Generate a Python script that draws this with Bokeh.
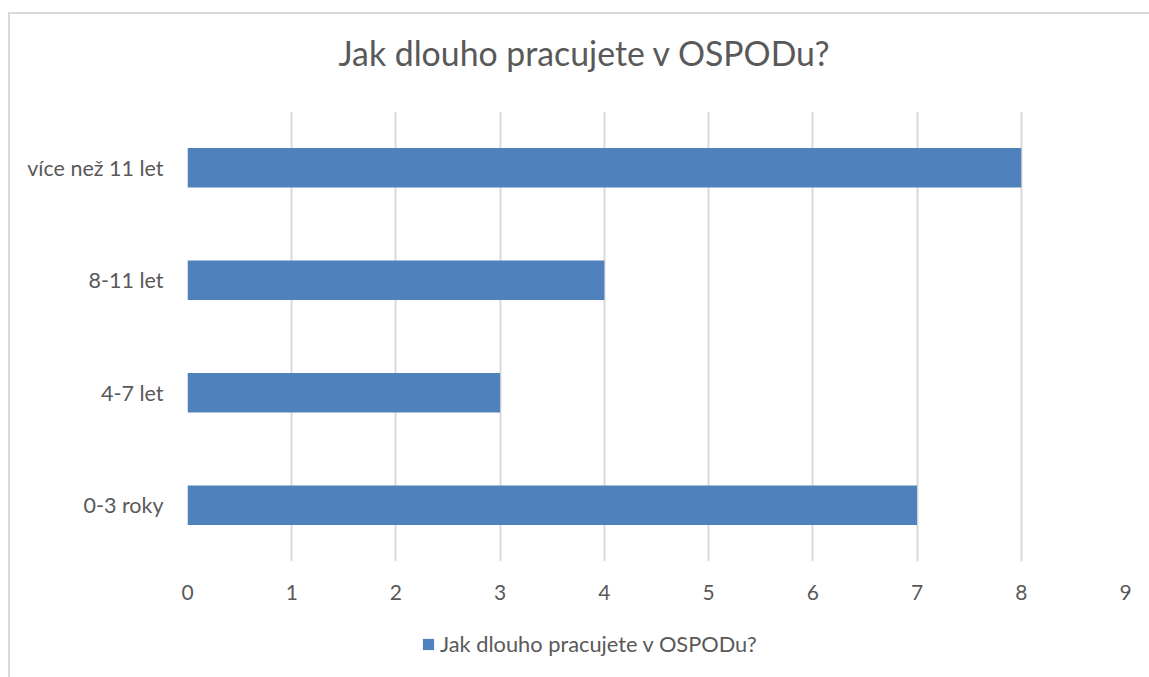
from bokeh.plotting import figure
from bokeh.layouts import column
from bokeh.models import Range1d, FactorRange, Legend, LegendItem, ColumnDataSource, FixedTicker
from bokeh.embed import file_html
from bokeh.resources import INLINE

categories = ["0-3 roky", "4-7 let", "8-11 let", "více než 11 let"]
values = [7, 3, 4, 8]
x_ticks = [0, 1, 2, 3, 4, 5, 6, 7, 8, 9]
title_text = "Jak dlouho pracujete v OSPODu?"
series_name = "Jak dlouho pracujete v OSPODu?"

FONT = "Lato"
TXT = "#595959"
BAR = "#4F81BD"
GRID = "#D9D9D9"

src = ColumnDataSource(dict(cat=categories, val=values))
xr = Range1d(0, 9)
yr = FactorRange(factors=categories)

def blank(fig):
    fig.grid.visible = False
    fig.outline_line_color = None
    fig.background_fill_color = "white"
    fig.border_fill_color = "white"

# title strip
p0 = figure(width=1139, height=97, output_backend="svg", toolbar_location=None,
            x_range=xr, y_range=yr, x_axis_location=None, y_axis_location=None,
            min_border=0, title=title_text)
blank(p0)
p0.title.text_font = FONT
p0.title.text_font_size = "33.8px"
p0.title.text_font_style = "normal"
p0.title.text_color = TXT
p0.title.align = "left"
p0.title.offset = 151
p0.title.vertical_align = "top"
p0.title.standoff = 37

# main chart
p = figure(
    y_range=yr, x_range=xr,
    width=1139, height=509, output_backend="svg", toolbar_location=None,
    min_border_left=177, min_border_right=24, min_border_top=0, min_border_bottom=59,
)
p.outline_line_color = None
p.background_fill_color = "white"
p.border_fill_color = "white"

r = p.hbar(y="cat", right="val", left=0, height=0.35, source=src, color=BAR, line_color=None)

p.xaxis.ticker = FixedTicker(ticks=x_ticks)
p.xaxis.axis_line_color = None
p.xaxis.major_tick_line_color = None
p.xaxis.minor_tick_line_color = None
p.xaxis.major_label_text_font = FONT
p.xaxis.major_label_text_font_size = "21px"
p.xaxis.major_label_text_color = TXT
p.xaxis.major_label_standoff = 17

p.yaxis.axis_line_color = None
p.yaxis.major_tick_line_color = None
p.yaxis.major_label_text_font = FONT
p.yaxis.major_label_text_font_size = "21.5px"
p.yaxis.major_label_text_color = TXT
p.yaxis.major_label_standoff = 18

p.xgrid.grid_line_color = GRID
p.xgrid.grid_line_width = 2
p.ygrid.grid_line_color = None

# legend strip below the chart (zero-height bars as legend source)
p2 = figure(width=1139, height=57, output_backend="svg", toolbar_location=None,
            x_range=xr, y_range=yr, x_axis_location=None, y_axis_location=None,
            min_border=0)
blank(p2)
proxy = p2.hbar(y="cat", right="val", left=0, height=0, source=src, color=BAR, line_color=None)

legend = Legend(items=[LegendItem(label=series_name, renderers=[proxy])],
                location=(234, 20), orientation="horizontal", margin=0, padding=0,
                label_text_font=FONT, label_text_font_size="21.8px", label_text_color=TXT,
                glyph_width=14, glyph_height=14, border_line_color=None,
                background_fill_alpha=0, label_standoff=5)
p2.add_layout(legend)

lay = column(p0, p, p2, spacing=0)
lay.margin = (12, 0, 0, 8)
lay.styles = {"border-left": "2px solid #D9D9D9", "border-top": "2px solid #D9D9D9"}

open("out.html", "w").write(file_html(lay, INLINE))
